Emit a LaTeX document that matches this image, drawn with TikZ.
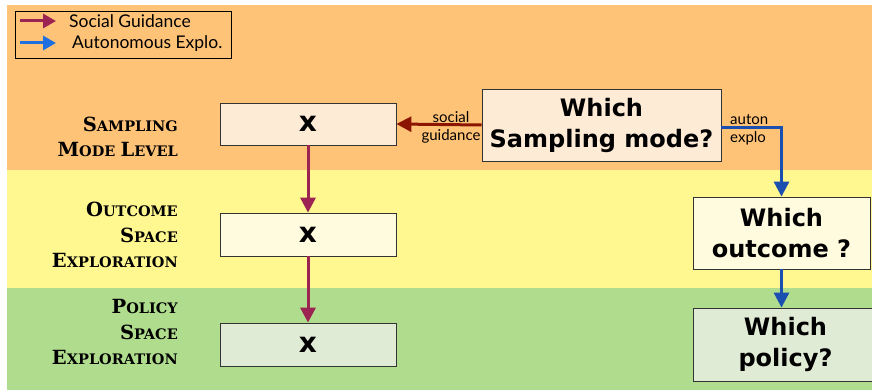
\documentclass[tikz,border=0pt]{standalone}
\usepackage{fontspec}
\setmainfont{Lato}
\newfontfamily\lblfont{DejaVu Serif}
\newfontfamily\qfont{DejaVu Sans}
\usetikzlibrary{arrows.meta}
\definecolor{bgorange}{HTML}{FFC378}
\definecolor{bgyellow}{HTML}{FFF78F}
\definecolor{bggreen}{HTML}{B0DC8E}
\definecolor{fillpeach}{HTML}{FDEBD6}
\definecolor{fillcream}{HTML}{FFFBDF}
\definecolor{fillsage}{HTML}{E0EBD5}
\definecolor{sgcol}{HTML}{9B2452}
\definecolor{drcol}{HTML}{8B1500}
\definecolor{blcol}{HTML}{1A4FB0}
\definecolor{lgblue}{HTML}{1E6FE0}
\newcommand\Bc[1]{{\fontsize{19.5}{22}\selectfont #1}}
\tikzset{
  xbox/.style={draw=black!80, line width=0.8pt, minimum width=176pt, minimum height=43pt, inner sep=0pt, font=\qfont\fontsize{28}{28}\selectfont\bfseries},
  qbox/.style={draw=black!80, line width=0.8pt, inner sep=0pt, align=center, font=\qfont\fontsize{24}{31}\selectfont\bfseries},
  lvl/.style={anchor=east, inner sep=0pt, align=right, font=\lblfont\bfseries\fontsize{14.5}{25.5}\selectfont},
  sgarrow/.style={draw=sgcol, line width=3pt, -{Triangle[length=15pt,width=15pt]}},
  drarrow/.style={draw=drcol, line width=3pt, -{Triangle[length=15pt,width=15pt]}},
  blarrow/.style={draw=blcol, line width=3pt, -{Triangle[length=15pt,width=15pt]}},
  small/.style={font=\fontsize{15}{18}\selectfont, inner sep=0pt}
}
\begin{document}
\begin{tikzpicture}[x=1pt,y=-1pt]
\useasboundingbox (0,0) rectangle (872,390);
\fill[bgorange] (7,5) rectangle (872,170);
\fill[bgyellow] (7,170) rectangle (872,288);
\fill[bggreen] (7,288) rectangle (872,390);
% legend
\draw[black, line width=0.8pt] (15,11) rectangle (231,58);
\coordinate (l1a) at (20,21); \coordinate (l1b) at (56,21);
\coordinate (l2a) at (20,43); \coordinate (l2b) at (56,43);
\draw[draw=sgcol, line width=3pt, -{Triangle[length=13pt,width=14pt]}] (l1a) -- (l1b);
\draw[draw=lgblue, line width=3pt, -{Triangle[length=13pt,width=14pt]}] (l2a) -- (l2b);
\node[anchor=west, inner sep=0pt, font=\fontsize{17.5}{18}\selectfont] (lt1) at (69,21) {Social Guidance};
\node[anchor=west, inner sep=0pt, font=\fontsize{17.5}{18}\selectfont] (lt2) at (72,44) {Autonomous Explo.};
% level labels
\node[lvl] (lv1) at (178,137) {\Bc{S}AMPLING\\\Bc{M}ODE \Bc{L}EVEL};
\node[lvl] (lv2) at (178,235) {\Bc{O}UTCOME\\\Bc{S}PACE\\\Bc{E}XPLORATION};
\node[lvl] (lv3) at (178,332) {\Bc{P}OLICY\\\Bc{S}PACE\\\Bc{E}XPLORATION};
% x boxes
\node[xbox, fill=fillpeach, minimum height=42pt] (sx) at (308,124) {x};
\node[xbox, fill=fillcream] (ox) at (308,234.5) {x};
\node[xbox, fill=fillsage] (px) at (308,344.5) {x};
% question boxes
\node[qbox, fill=fillpeach, minimum width=239pt, minimum height=72pt] (ws) at (601.5,125) {Which\\Sampling mode?};
\node[qbox, fill=fillcream, minimum width=177pt, minimum height=72pt] (wo) at (781.5,233) {Which\\outcome ?};
\node[qbox, fill=fillsage, minimum width=185pt, minimum height=73pt] (wp) at (785.5,344.5) {Which\\policy?};
% connectors
\draw[sgarrow] (sx) -- (ox);
\draw[sgarrow] (ox) -- (px);
\draw[drarrow] (ws.west) -- (sx.east);
\draw[blarrow] ([yshift=-3pt]ws.east) -| (wo.north);
\draw[blarrow] (wo.south) -- (wo.south |- wp.north);
\node[small, align=center] (sg) at (451,127) {social\\guidance};
\node[small, align=left, anchor=west] (ae) at (730,130) {auton\\explo};
\end{tikzpicture}
\end{document}
